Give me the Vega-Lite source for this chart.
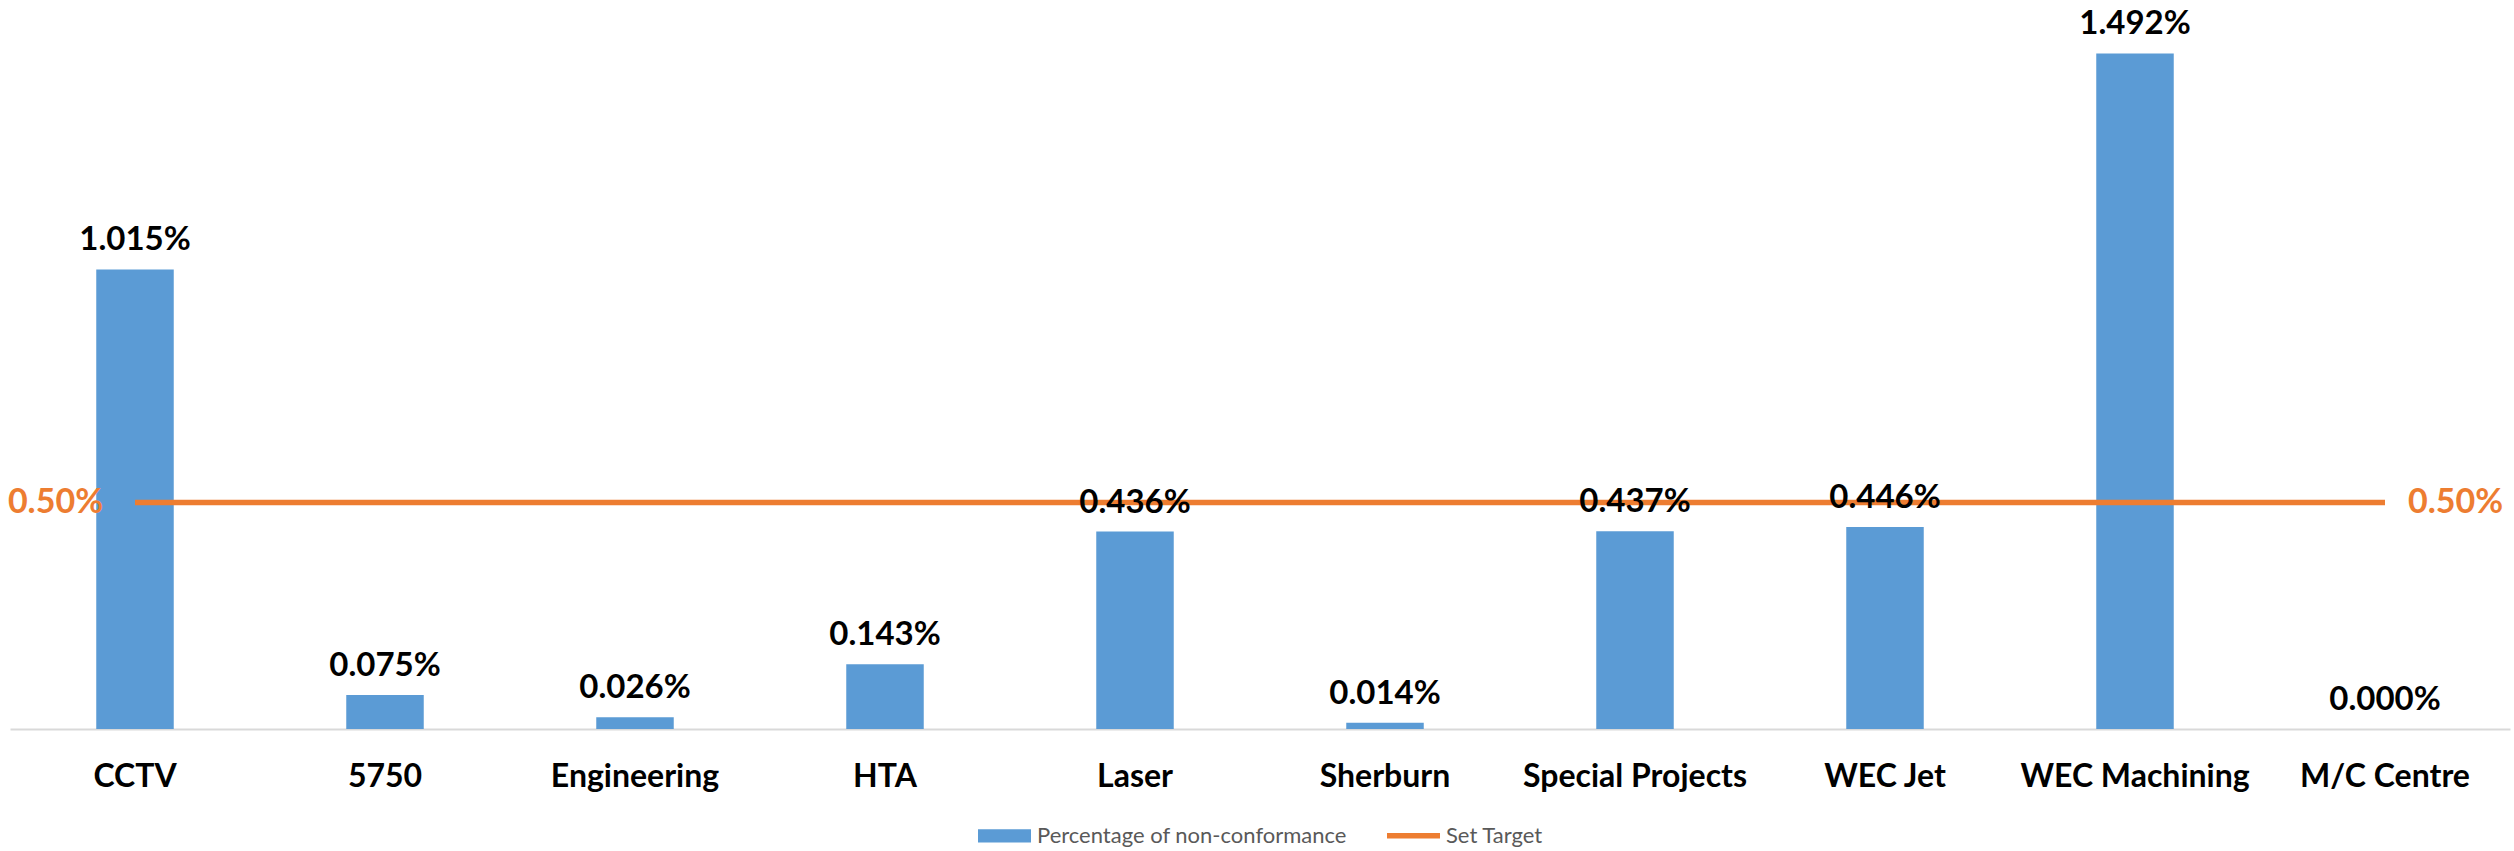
{
  "$schema": "https://vega.github.io/schema/vega-lite/v6.json",
  "width": 2500,
  "height": 729,
  "autosize": "none",
  "padding": {"left": 10, "top": 0, "right": 4, "bottom": 122},
  "background": "white",
  "config": {"view": {"stroke": null}, "font": "Lato"},
  "data": {"values": [
    {"category": "CCTV", "value": 0.01015, "target": 0.005},
    {"category": "5750", "value": 0.00075, "target": 0.005},
    {"category": "Engineering", "value": 0.00026, "target": 0.005},
    {"category": "HTA", "value": 0.00143, "target": 0.005},
    {"category": "Laser", "value": 0.00436, "target": 0.005},
    {"category": "Sherburn", "value": 0.00014, "target": 0.005},
    {"category": "Special Projects", "value": 0.00437, "target": 0.005},
    {"category": "WEC Jet", "value": 0.00446, "target": 0.005},
    {"category": "WEC Machining", "value": 0.01492, "target": 0.005},
    {"category": "M/C Centre", "value": 0.0, "target": 0.005}
  ]},
  "encoding": {
    "x": {
      "field": "category", "type": "nominal", "sort": null,
      "scale": {"paddingInner": 0.69, "paddingOuter": 0.345},
      "axis": {
        "title": null, "labelAngle": 0, "labelFontSize": 32, "labelFontWeight": "bold",
        "labelColor": "#000000", "labelFont": "Lato", "ticks": false, "labelLimit": 0,
        "domainColor": "#D9D9D9", "domainWidth": 2, "labelPadding": 32
      }
    }
  },
  "layer": [
    {
      "mark": {"type": "bar"},
      "encoding": {
        "y": {"field": "value", "type": "quantitative", "scale": {"domain": [0, 0.0161], "nice": false}, "axis": null},
        "color": {
          "datum": "Percentage of non-conformance", "type": "nominal",
          "scale": {"domain": ["Percentage of non-conformance", "Set Target"], "range": ["#5B9BD5", "#ED7D31"]},
          "legend": {
            "orient": "none", "legendX": 968, "legendY": 809, "direction": "horizontal",
            "title": null, "labelFont": "Lato", "labelFontSize": 22, "labelColor": "#595959", "labelLimit": 0,
            "symbolSize": 2809, "labelOffset": 6, "columnPadding": 40,
            "encode": {
              "symbols": {"update": {
                "shape": {"signal": "datum.value === 'Set Target' ? 'M-1,-0.1H1V0.1H-1Z' : 'M-1,-0.25H1V0.25H-1Z'"},
                "fill": {"signal": "scale('color', datum.value)"},
                "stroke": {"value": "transparent"},
                "strokeWidth": {"value": 0},
                "size": {"value": 2809},
                "opacity": {"value": 1}
              }}
            }
          }
        }
      }
    },
    {
      "mark": {"type": "line", "strokeWidth": 5.5},
      "encoding": {
        "y": {"field": "target", "type": "quantitative"},
        "color": {"datum": "Set Target", "type": "nominal"}
      }
    },
    {
      "mark": {"type": "text", "dy": -19, "baseline": "alphabetic", "fontSize": 33, "fontWeight": "bold", "color": "#000000", "font": "Lato"},
      "encoding": {
        "y": {"field": "value", "type": "quantitative"},
        "text": {"field": "value", "type": "quantitative", "format": ".3%"}
      }
    },
    {
      "transform": [{"filter": "datum.category === 'CCTV'"}],
      "mark": {"type": "text", "align": "right", "dx": -32, "baseline": "middle", "fontSize": 34, "fontWeight": "bold", "color": "#ED7D31", "font": "Lato"},
      "encoding": {
        "y": {"field": "target", "type": "quantitative"},
        "text": {"field": "target", "type": "quantitative", "format": ".2%"}
      }
    },
    {
      "transform": [{"filter": "datum.category === 'M/C Centre'"}],
      "mark": {"type": "text", "align": "left", "dx": 23, "baseline": "middle", "fontSize": 34, "fontWeight": "bold", "color": "#ED7D31", "font": "Lato"},
      "encoding": {
        "y": {"field": "target", "type": "quantitative"},
        "text": {"field": "target", "type": "quantitative", "format": ".2%"}
      }
    }
  ]
}
